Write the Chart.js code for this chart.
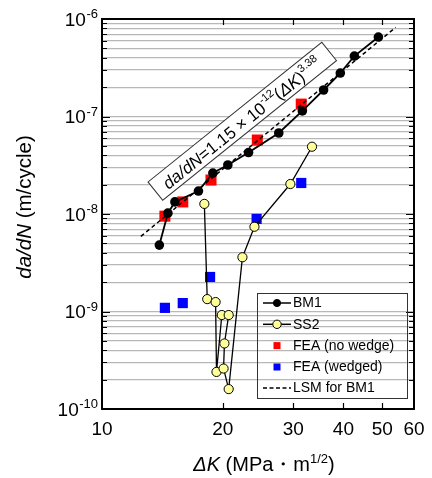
<!DOCTYPE html>
<html>
<head>
<meta charset="utf-8">
<script src="https://cdn.jsdelivr.net/npm/chart.js@4/dist/chart.umd.min.js"></script>
<style>
  html, body { margin: 0; padding: 0; background: #fff; }
  #wrap { width: 432px; height: 478px; }
</style>
</head>
<body>
<div id="wrap"><canvas id="fcgChart" width="432" height="478"></canvas></div>
<script>
/* da/dN vs dK — fatigue crack growth, log-log */
var bm1K = [13.9, 14.6, 15.2, 17.4, 18.9, 20.6, 23.2, 27.6, 31.6, 35.7, 39.3, 42.6, 48.9];
var bm1Rate = [4.8e-9, 1.02e-8, 1.33e-8, 1.72e-8, 2.63e-8, 3.18e-8, 4.27e-8, 6.77e-8, 1.14e-7, 1.87e-7, 2.79e-7, 4.17e-7, 6.53e-7];
var ss2K = [18.0, 18.3, 19.2, 19.3, 19.9, 20.7, 20.2, 20.1, 20.7, 22.4, 24.0, 29.5, 33.4];
var ss2Rate = [1.27e-8, 1.34e-9, 1.25e-9, 2.4e-10, 9.2e-10, 9.2e-10, 4.7e-10, 2.6e-10, 1.6e-10, 3.6e-9, 7.4e-9, 2.03e-8, 4.9e-8];
var feaK = [14.35, 15.9, 18.7, 24.4, 31.4];
var feaRate = [9.5e-9, 1.33e-8, 2.23e-8, 5.74e-8, 1.34e-7];
var wedgeK = [14.35, 15.9, 18.6, 24.3, 31.4];
var wedgeRate = [1.09e-9, 1.22e-9, 2.26e-9, 8.9e-9, 2.08e-8];
var lsmK = [12.5, 54];
var lsmRate = [5.9e-9, 8.2e-7];
var xTicks = [10, 20, 30, 40, 50, 60];
var yDecades = [-10, -9, -8, -7, -6];
var legendLabels = ["BM1", "SS2", "FEA (no wedge)", "FEA (wedged)", "LSM for BM1"];

var FONT = "'Liberation Sans', Arial, sans-serif";

function pts(xs, ys) {
  return xs.map(function (x, i) { return { x: x, y: ys[i] }; });
}

/* draw a run of text pieces: {t, it, sup} */
function drawRuns(ctx, runs, x, y, size, supSize, supRise) {
  var cx = x;
  runs.forEach(function (r) {
    var sz = r.sup ? supSize : size;
    ctx.font = (r.it ? "italic " : "") + sz + "px " + FONT;
    ctx.fillText(r.t, cx, r.sup ? y - supRise : y);
    cx += ctx.measureText(r.t).width;
  });
  return cx - x;
}
function runsWidth(ctx, runs, size, supSize) {
  var w = 0;
  runs.forEach(function (r) {
    ctx.font = (r.it ? "italic " : "") + (r.sup ? supSize : size) + "px " + FONT;
    w += ctx.measureText(r.t).width;
  });
  return w;
}

var decorations = {
  id: "decorations",
  afterDraw: function (chart) {
    var ctx = chart.ctx, a = chart.chartArea;
    var xs = chart.scales.x, ys = chart.scales.y;
    ctx.save();
    ctx.fillStyle = "#000";
    ctx.strokeStyle = "#000";

    /* frame */
    ctx.lineWidth = 2;
    ctx.strokeRect(a.left, a.top, a.right - a.left, a.bottom - a.top);

    /* y ticks, inward on both sides */
    ctx.lineWidth = 1.2;
    yDecades.forEach(function (n) {
      for (var m = 1; m <= 9; m++) {
        if (n === -6 && m > 1) break;
        var py = Math.round(ys.getPixelForValue(m * Math.pow(10, n))) + 0.5;
        var len = m === 1 ? 8 : 5;
        ctx.beginPath();
        ctx.moveTo(a.left, py); ctx.lineTo(a.left + len, py);
        ctx.moveTo(a.right, py); ctx.lineTo(a.right - len, py);
        ctx.stroke();
      }
    });

    /* x ticks */
    xTicks.slice(1, -1).forEach(function (v) {
      var px = Math.round(xs.getPixelForValue(v)) + 0.5;
      ctx.beginPath();
      ctx.moveTo(px, a.bottom); ctx.lineTo(px, a.bottom - 6);
      ctx.moveTo(px, a.top); ctx.lineTo(px, a.top + 6);
      ctx.stroke();
    });

    /* x tick labels */
    ctx.font = "19px " + FONT;
    ctx.textAlign = "center";
    ctx.textBaseline = "alphabetic";
    xTicks.forEach(function (v) {
      ctx.fillText(String(v), xs.getPixelForValue(v), 435);
    });

    /* y tick labels 10^n */
    ctx.textAlign = "left";
    yDecades.forEach(function (n) {
      var py = ys.getPixelForValue(Math.pow(10, n));
      var sup = "-" + (-n);
      ctx.font = "13px " + FONT;
      var sw = ctx.measureText(sup).width;
      ctx.fillText(sup, 98 - sw, py - 1);
      ctx.font = "19px " + FONT;
      var bw = ctx.measureText("10").width;
      ctx.fillText("10", 98 - sw - bw - 0.5, py + 6.5);
    });

    /* x title */
    var xt = [{ t: "\u0394K", it: true }, { t: " (MPa" }, { t: "\u30FB" }, { t: "m" }, { t: "1/2", sup: true }, { t: ")" }];
    var xw = runsWidth(ctx, xt, 20, 13);
    drawRuns(ctx, xt, 264 - xw / 2, 471, 20, 13, 8);

    /* y title */
    var yt = [{ t: "da/dN", it: true }, { t: " (m/cycle)" }];
    ctx.save();
    ctx.translate(31, 207);
    ctx.rotate(-Math.PI / 2);
    var yw = runsWidth(ctx, yt, 20.5, 13);
    drawRuns(ctx, yt, -yw / 2, 0, 20.5, 13, 8);
    ctx.restore();

    /* fitted-law label box */
    ctx.save();
    ctx.translate(148, 182);
    ctx.rotate(-38.8 * Math.PI / 180);
    ctx.fillStyle = "#fff";
    ctx.fillRect(0, 0, 223, 23.5);
    ctx.strokeStyle = "#333";
    ctx.lineWidth = 1;
    ctx.strokeRect(0, 0, 223, 23.5);
    ctx.fillStyle = "#000";
    var eq = [
      { t: "da/dN", it: true }, { t: "=1.15 \u00D7 10" }, { t: "-12", sup: true },
      { t: "(" }, { t: "\u0394K", it: true }, { t: ")" }, { t: "3.38", sup: true }
    ];
    drawRuns(ctx, eq, 11, 19, 17, 11, 8);
    ctx.restore();

    /* legend */
    var lx = 257.5, ly = 293.5;
    ctx.strokeStyle = "#333";
    ctx.lineWidth = 1;
    ctx.strokeRect(lx, ly, 150, 105);
    var rowY = [303, 324.3, 345.6, 367, 388];
    ctx.font = "14px " + FONT;
    ctx.textBaseline = "middle";
    ctx.textAlign = "left";
    legendLabels.forEach(function (lab, i) {
      var y = rowY[i];
      ctx.strokeStyle = "#000";
      if (i === 0 || i === 1) {
        ctx.lineWidth = 1.5;
        ctx.beginPath(); ctx.moveTo(263, y); ctx.lineTo(291, y); ctx.stroke();
        ctx.beginPath(); ctx.arc(277, y, i === 0 ? 3.6 : 4.2, 0, Math.PI * 2);
        ctx.fillStyle = i === 0 ? "#000" : "#ffff99";
        ctx.fill();
        ctx.lineWidth = 1; ctx.stroke();
      } else if (i === 2 || i === 3) {
        ctx.fillStyle = i === 2 ? "#ff0000" : "#0000ff";
        ctx.fillRect(273.5, y - 3.5, 7, 7);
      } else {
        ctx.lineWidth = 1.4;
        ctx.setLineDash([4, 2.5]);
        ctx.beginPath(); ctx.moveTo(263, y); ctx.lineTo(291, y); ctx.stroke();
        ctx.setLineDash([]);
      }
      ctx.fillStyle = "#000";
      ctx.font = "14px " + FONT;
      ctx.fillText(lab, 293, y + 0.5);
    });

    ctx.restore();
  }
};

new Chart(document.getElementById("fcgChart"), {
  type: "scatter",
  data: {
    datasets: [
      { label: "BM1", data: pts(bm1K, bm1Rate), showLine: true, borderColor: "#000", borderWidth: 1.8,
        pointRadius: 4.8, pointBackgroundColor: "#000", pointBorderColor: "#000", pointBorderWidth: 0 },
      { label: "SS2", data: pts(ss2K, ss2Rate), showLine: true, borderColor: "#000", borderWidth: 1.3,
        pointRadius: 4.6, pointBackgroundColor: "#ffff99", pointBorderColor: "#000", pointBorderWidth: 1 },
      { label: "LSM for BM1", data: pts(lsmK, lsmRate), showLine: true, borderColor: "#000", borderWidth: 1.5,
        borderDash: [4, 3], pointRadius: 0 },
      { label: "FEA (no wedge)", data: pts(feaK, feaRate), pointStyle: "rect", pointRadius: 7.8,
        pointBackgroundColor: "#ff0000", pointBorderWidth: 0 },
      { label: "FEA (wedged)", data: pts(wedgeK, wedgeRate), pointStyle: "rect", pointRadius: 7.2,
        pointBackgroundColor: "#0000ff", pointBorderWidth: 0 },
    ],
  },
  options: {
    responsive: false,
    animation: false,
    layout: { padding: { left: 0, right: 18, top: 19, bottom: 0 } },
    plugins: { legend: { display: false }, tooltip: { enabled: false } },
    scales: {
      x: {
        type: "logarithmic", min: 10, max: 60,
        ticks: { display: false },
        grid: { display: false },
        border: { display: false },
        afterBuildTicks: function (s) { s.ticks = xTicks.map(function (v) { return { value: v }; }); },
        afterFit: function (s) { s.height = 69; },
      },
      y: {
        type: "logarithmic", min: 1e-10, max: 1e-6,
        ticks: { display: false },
        grid: { color: "#b8b8b8", lineWidth: 1.2, drawTicks: false },
        border: { display: false },
        afterBuildTicks: function (s) {
          var t = [];
          yDecades.forEach(function (n) {
            for (var m = 1; m <= 9; m++) {
              if (n === -6 && m > 1) break;
              t.push({ value: m * Math.pow(10, n) });
            }
          });
          s.ticks = t;
        },
        afterFit: function (s) { s.width = 102; },
      },
    },
  },
  plugins: [decorations],
});
</script>
</body>
</html>
